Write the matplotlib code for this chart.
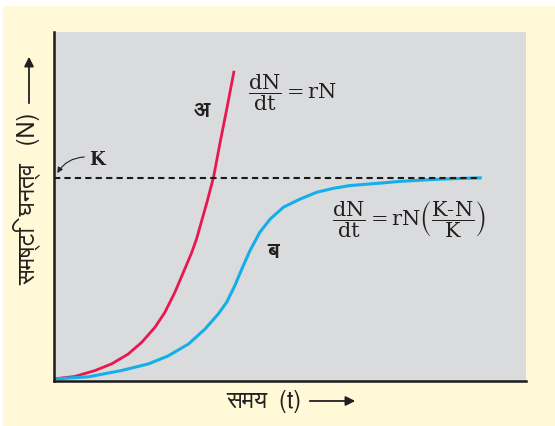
import matplotlib.pyplot as plt
from matplotlib import font_manager
from matplotlib.ft2font import FT2Font
from matplotlib.patches import Rectangle, FancyArrowPatch

# curve readings (time 0..100, population 0..100)
t_exp = [0, 4.4, 8.7, 12.2, 15.7, 18.6, 21.4, 23.5, 25.6, 27.4, 29.2, 30.2, 32.4, 33.8,
         35.2, 36.6, 38.1]
n_exp = [0.6, 1.3, 3.0, 4.9, 7.7, 11.1, 15.4, 19.7, 25.4, 31.1, 36.9, 40.7, 51.2, 58.4,
         68.4, 77.9, 88.5]

t_log = [0, 7.3, 14.3, 20.0, 24.2, 28.5, 32.0, 34.8, 36.6, 38.3, 39.8, 41.5, 43.6, 45.8,
         48.6, 52.1, 55.7, 59.2, 62.7, 69.1, 73.3, 79.7, 85.0, 90.3]
n_log = [0.6, 1.2, 3.0, 4.9, 7.2, 10.6, 14.9, 19.2, 22.6, 27.3, 32.1, 37.3, 42.6, 46.4,
         49.8, 52.1, 54.1, 55.2, 56.0, 56.7, 57.2, 57.7, 58.0, 58.2]

K = 58.2
t_end = 90.5

label_exp = "अ"
label_log = "ब"
ylabel = "समष्टि  घनत्व   (N)"
xlabel = "समय  (t)"


def find_family(ch, prefer=("FreeSans", "FreeSerif")):
    names = []
    for f in font_manager.fontManager.ttflist:
        try:
            if ord(ch) in FT2Font(f.fname).get_charmap():
                names.append(f.name)
        except Exception:
            pass
    for p in prefer:
        if p in names:
            return p
    return names[0] if names else None


deva = find_family("स")
hindi = [deva, "DejaVu Sans"] if deva else ["DejaVu Sans"]

plt.rcParams["mathtext.fontset"] = "dejavuserif"

W, H = 555, 427
fig = plt.figure(figsize=(W / 100, H / 100), dpi=100, facecolor="white")
fig.patches.append(Rectangle((3 / W, 0), 1, (H - 7) / H, transform=fig.transFigure,
                             facecolor="#fff9d8", edgecolor="none", zorder=-10))

ax = fig.add_axes([54 / W, (H - 382) / H, (526 - 54) / W, (382 - 33) / H])
ax.set_facecolor("#dadbdd")
ax.set_xlim(0, 100)
ax.set_ylim(0, 100)
for s in ["top", "right"]:
    ax.spines[s].set_visible(False)
for s in ["left", "bottom"]:
    ax.spines[s].set_linewidth(1.8)
    ax.spines[s].set_color("#1a1a1a")
ax.set_xticks([])
ax.set_yticks([])

ax.plot(t_exp, n_exp, color="#e8174f", lw=2)
ax.plot(t_log, n_log, color="#14aee8", lw=2.2)
ax.plot([0, t_end], [K, K], color="#1a1a1a", lw=1.5, ls=(0, (3, 2)))

ax.text(31.3, 77.5, label_exp, fontsize=16, fontweight="bold", family=hindi,
        ha="center", va="center", color="#231f20")
ax.text(46.4, 37.0, label_log, fontsize=16, fontweight="bold", family=hindi,
        ha="center", va="center", color="#231f20")

ax.text(7.4, 63.6, "K", fontsize=13, fontweight="bold", family="DejaVu Serif",
        ha="left", va="center", color="#231f20")
ax.annotate("", xy=(0.4, 58.9), xytext=(7.0, 64.2),
            arrowprops=dict(arrowstyle="-|>", color="#231f20", lw=0.8,
                            mutation_scale=8, connectionstyle="arc3,rad=0.3"))

ax.text(41.0, 83.0, r"$\dfrac{\mathrm{dN}}{\mathrm{dt}} = \mathrm{rN}$", fontsize=15,
        ha="left", va="center", color="#231f20")
ax.text(59.0, 46.5,
        r"$\dfrac{\mathrm{dN}}{\mathrm{dt}} = \mathrm{rN}\left(\dfrac{\mathrm{K\text{-}N}}{\mathrm{K}}\right)$",
        fontsize=15, ha="left", va="center", color="#231f20")

# axis labels with arrows
fig.text(27 / W, (H - 113) / H, ylabel, rotation=90, fontsize=17, family=hindi,
         ha="center", va="top", color="#231f20")
fig.patches.append(FancyArrowPatch(
    (29 / W, (H - 107) / H), (29 / W, (H - 55) / H), transform=fig.transFigure,
    arrowstyle="-|>", mutation_scale=14, lw=1.3, color="#231f20"))

fig.text(301 / W, (H - 402) / H, xlabel, fontsize=17, family=hindi,
         ha="right", va="center", color="#231f20")
fig.patches.append(FancyArrowPatch(
    (307 / W, (H - 402) / H), (358 / W, (H - 402) / H), transform=fig.transFigure,
    arrowstyle="-|>", mutation_scale=14, lw=1.3, color="#231f20"))

fig.savefig("out.png", dpi=100, facecolor="white")
